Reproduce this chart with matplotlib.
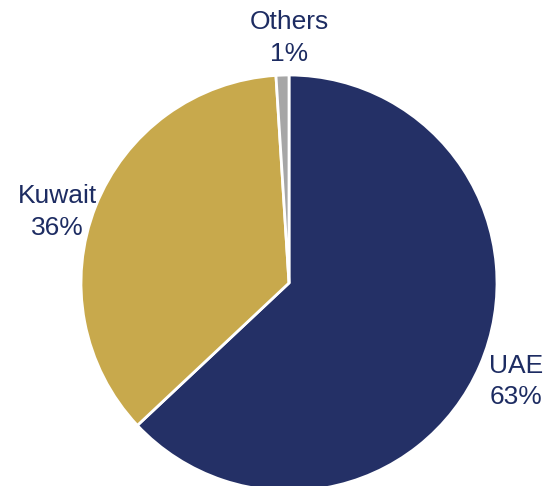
import matplotlib.pyplot as plt

# share of the pie, clockwise from 12 o'clock
countries = ["UAE", "Kuwait", "Others"]
shares = [63, 36, 1]
colors = ["#243066", "#C8A94C", "#A6A6A6"]

plt.rcParams["font.family"] = ["Liberation Sans", "DejaVu Sans"]

fig = plt.figure(figsize=(5.46, 4.86), dpi=100)
ax = fig.add_axes([0, 0, 1, 1])

cx, cy, r = 289, 203, 208
labels = [f"{c}\n{s}%" for c, s in zip(countries, shares)]
wedges, texts = ax.pie(shares, labels=labels, colors=colors, startangle=90,
                       counterclock=False, center=(cx, cy), radius=r,
                       labeldistance=1.19, frame=True,
                       wedgeprops=dict(edgecolor="white", linewidth=2),
                       textprops=dict(color="#1D2C62", fontsize=19))
for t in texts:
    t.set_ha("center")
    t.set_linespacing(1.4)

# nudge labels to where the original has them
texts[1].set_position((57, 274))
texts[2].set_position((cx, 448))

ax.set_xlim(0, 546)
ax.set_ylim(0, 486)
ax.set_aspect("equal")
ax.axis("off")

fig.savefig("out.png", dpi=100)
